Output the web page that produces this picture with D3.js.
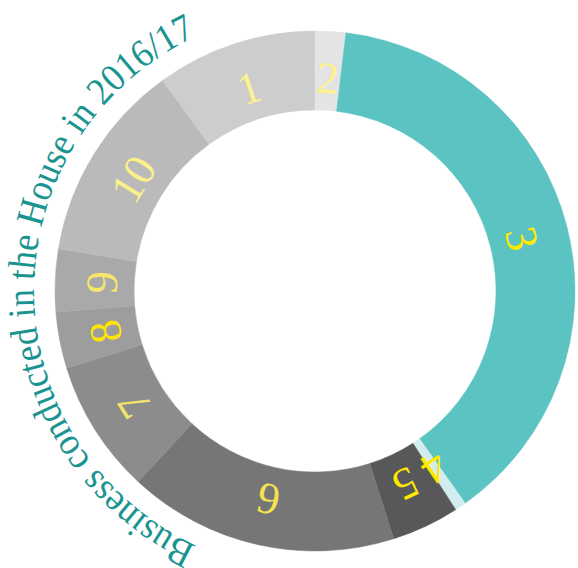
<!DOCTYPE html>
<html>
<head>
<meta charset="utf-8">
<script src="https://cdn.jsdelivr.net/npm/d3@7"></script>
<style>
  body { margin: 0; background: #fff; }
  svg { display: block; }
</style>
</head>
<body>
<div id="chart"></div>
<script>
var labels = ["1", "2", "3", "4", "5", "6", "7", "8", "9", "10"]
var values = [10.0, 1.9, 38.3, 0.7, 4.2, 16.8, 8.3, 3.5, 3.9, 12.4]
var title = "Business conducted in the House in 2016/17"

var colors = ["#cdcdcd", "#e4e4e4", "#5bc4c3", "#d3ecee", "#58585a",
              "#767677", "#8b8c8b", "#9c9d9c", "#a9a9a9", "#bababa"]
var labelColors = ["#fcf28e", "#fcf28e", "#ffea00", "#ffe800", "#ffe800",
                   "#f5e24e", "#f2e26c", "#ffe600", "#f6e66c", "#fbf08a"]

var width = 578, height = 568,
    cx = 315, cy = 291,
    outerR = 260, innerR = 181,
    labelR = 214, titleR = 281;

var svg = d3.select("#chart").append("svg")
    .attr("width", width)
    .attr("height", height)

var g = svg.append("g")
    .attr("transform", "translate(" + cx + "," + cy + ")")

// segment 1 ends at twelve o'clock
var total = d3.sum(values)
var offset = 2 * Math.PI * values[0] / total

var pie = d3.pie()
    .sort(null)
    .value(function(d) { return d; })
    .startAngle(-offset)
    .endAngle(2 * Math.PI - offset)

var arcs = pie(values)

var arc = d3.arc()
    .innerRadius(innerR)
    .outerRadius(outerR)

g.selectAll("path.seg")
    .data(arcs)
    .enter().append("path")
    .attr("class", "seg")
    .attr("d", arc)
    .attr("fill", function(d, i) { return colors[i]; })
    .attr("stroke", function(d, i) { return colors[i]; })
    .attr("stroke-width", 0.5)

// numbers, rotated so the top of each glyph points outward
g.selectAll("text.lab")
    .data(arcs)
    .enter().append("text")
    .attr("class", "lab")
    .attr("transform", function(d) {
        var a = (d.startAngle + d.endAngle) / 2
        var x = labelR * Math.sin(a), y = -labelR * Math.cos(a)
        return "translate(" + x + "," + y + ") rotate(" + (a * 180 / Math.PI) + ")"; })
    .attr("text-anchor", "middle")
    .attr("dy", "0.35em")
    .attr("font-family", "'Liberation Serif', 'Times New Roman', serif")
    .attr("font-size", 45)
    .attr("fill", function(d, i) { return labelColors[i]; })
    .text(function(d, i) { return labels[i]; })

// title curved round the left side of the ring
var p = d3.path()
p.arc(0, 0, titleR, Math.PI / 2, 3 * Math.PI / 2, false)

g.append("path")
    .attr("id", "titlePath")
    .attr("d", p.toString())
    .attr("fill", "none")

g.append("text")
    .attr("font-family", "'Liberation Serif', 'Times New Roman', serif")
    .attr("font-size", 39)
    .attr("fill", "#1a9490")
  .append("textPath")
    .attr("href", "#titlePath")
    .attr("startOffset", "50%")
    .attr("text-anchor", "middle")
    .attr("textLength", titleR * Math.PI * 130 / 180)
    .attr("lengthAdjust", "spacingAndGlyphs")
    .text(title)
</script>
</body>
</html>
